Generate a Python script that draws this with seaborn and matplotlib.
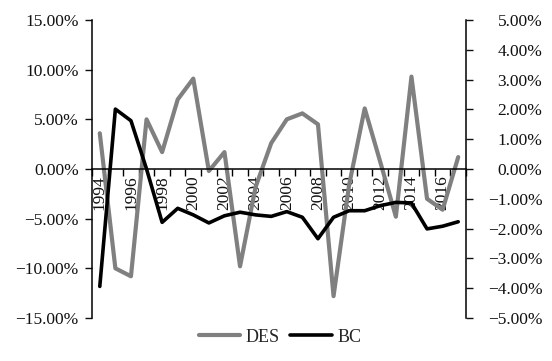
import matplotlib
matplotlib.use('Agg')
import matplotlib.pyplot as plt
import matplotlib.ticker as mticker
import pandas as pd
import seaborn as sns

sns.set_theme(style='white')
plt.rcParams['font.family'] = ['Liberation Serif', 'DejaVu Serif']

# Values (percent)
years = list(range(1994, 2018))
des = [3.6, -10.0, -10.8, 5.0, 1.7, 7.0, 9.1, -0.2, 1.7, -9.8, -1.8, 2.6,
       5.0, 5.6, 4.5, -12.8, -1.6, 6.1, 0.7, -4.8, 9.3, -3.0, -4.1, 1.2]
bc = [-3.94, 2.01, 1.62, 0.0, -1.79, -1.32, -1.54, -1.81, -1.57, -1.45, -1.54, -1.59,
      -1.43, -1.62, -2.34, -1.62, -1.40, -1.40, -1.23, -1.12, -1.14, -2.01, -1.92, -1.77]
left_ticks = [-15, -10, -5, 0, 5, 10, 15]
right_ticks = [-5, -4, -3, -2, -1, 0, 1, 2, 3, 4, 5]

df = pd.DataFrame({'year': years, 'DES': des, 'BC': bc})

fig = plt.figure(figsize=(5.52, 3.61), dpi=100)
ax = fig.add_axes([92 / 552, 1 - 318 / 361, 374 / 552, 298 / 361])
ax2 = ax.twinx()

sns.lineplot(data=df, x='year', y='DES', ax=ax, color='#808080', linewidth=3,
             label='DES', legend=False)
sns.lineplot(data=df, x='year', y='BC', ax=ax2, color='black', linewidth=2.6,
             label='BC', legend=False)

pct = mticker.FuncFormatter(lambda v, p: f'{v:.2f}%'.replace('-', '\u2212'))

ax.set_xlim(1993.5, 2017.5)
ax.set_ylim(-15, 15)
ax2.set_ylim(-5, 5)
ax.set_yticks(left_ticks)
ax2.set_yticks(right_ticks)
ax.yaxis.set_major_formatter(pct)
ax2.yaxis.set_major_formatter(pct)

# x axis runs through zero, ticks between the years
ax.spines['bottom'].set_position(('data', 0))
ax.set_xticks(years[::2])
ax.set_xticklabels([str(y) for y in years[::2]], rotation=90)
ax.set_xticks([y - 0.5 for y in years] + [years[-1] + 0.5], minor=True)
ax.tick_params(axis='x', which='major', length=0, pad=4.5, labelsize=12.5, colors='#111111')
ax.tick_params(axis='x', which='minor', length=5, width=1, direction='out',
               bottom=True, color='black')

ax.tick_params(axis='y', length=5, width=1, direction='out', left=True,
               labelsize=12.5, pad=4.5, colors='#111111')
ax2.tick_params(axis='y', length=5, width=1, direction='out', right=True,
                labelsize=12.5, pad=50, colors='#111111')
for lab in ax2.get_yticklabels():
    lab.set_horizontalalignment('right')

for s in ['top', 'right']:
    ax.spines[s].set_visible(False)
for s in ['top', 'bottom', 'left']:
    ax2.spines[s].set_visible(False)
for s in ['left', 'bottom']:
    ax.spines[s].set_color('black')
    ax.spines[s].set_linewidth(1.1)
ax2.spines['right'].set_color('black')
ax2.spines['right'].set_linewidth(1.1)

ax.set_xlabel('')
ax.set_ylabel('')
ax2.set_ylabel('')

handles = [ax.get_lines()[0], ax2.get_lines()[0]]
fig.legend(handles, ['DES', 'BC'], loc='center', bbox_to_anchor=(280 / 552, 1 - 337 / 361),
           ncol=2, frameon=False, fontsize=13, handlelength=2.3, handletextpad=0.3,
           columnspacing=0.6)

fig.savefig('out.png', dpi=100)
